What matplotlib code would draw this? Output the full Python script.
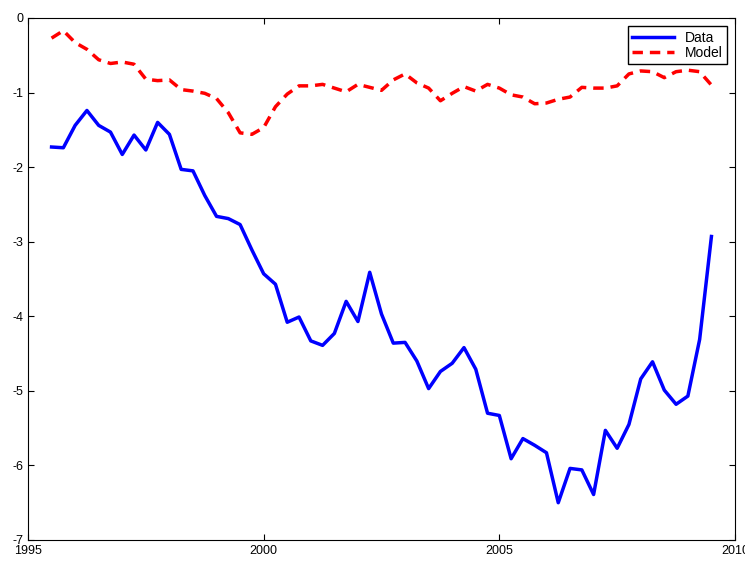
import numpy as np
import matplotlib
matplotlib.use("Agg")
import matplotlib.pyplot as plt

plt.rcParams['font.family'] = ['Liberation Sans', 'DejaVu Sans']
plt.rcParams['axes.unicode_minus'] = False

years = 1995.5 + 0.25 * np.arange(57)
data = [-1.73,-1.74,-1.44,-1.24,-1.44,-1.53,-1.83,-1.57,-1.77,-1.40,-1.56,-2.03,-2.05,-2.38,-2.66,-2.69,-2.77,-3.11,
        -3.43,-3.57,-4.08,-4.01,-4.33,-4.39,-4.23,-3.80,-4.07,-3.41,-3.97,-4.36,-4.35,-4.60,-4.97,-4.74,-4.63,-4.42,-4.71,-5.30,
        -5.33,-5.91,-5.64,-5.73,-5.83,-6.50,-6.04,-6.06,-6.39,-5.53,-5.77,-5.45,-4.84,-4.61,-4.99,-5.18,-5.07,-4.31,-2.93]
model = [-0.27,-0.17,-0.33,-0.42,-0.56,-0.61,-0.59,-0.62,-0.82,-0.84,-0.83,-0.96,-0.98,-1.01,-1.08,-1.27,-1.54,-1.56,
         -1.47,-1.19,-1.02,-0.91,-0.91,-0.89,-0.94,-0.99,-0.89,-0.93,-0.97,-0.83,-0.75,-0.87,-0.94,-1.11,-1.01,-0.92,-0.98,-0.89,
         -0.94,-1.03,-1.06,-1.15,-1.14,-1.09,-1.06,-0.93,-0.94,-0.94,-0.91,-0.75,-0.71,-0.72,-0.80,-0.72,-0.70,-0.72,-0.90]

fig = plt.figure(figsize=(7.45, 5.63), dpi=100)
ax = fig.add_axes([28/745, 1-540/563, 707/745, 522/563])
ax.plot(years, data, color='#0000ff', lw=2.5, label='Data')
ax.plot(years, model, color='#ff0000', lw=2.5, ls='--', dashes=(3, 2), label='Model')
ax.set_xlim(1995, 2010)
ax.set_ylim(-7, 0)
ax.set_xticks([1995, 2000, 2005, 2010])
ax.set_yticks(range(-7, 1))
ax.tick_params(direction='in', labelsize=9, top=True, right=True, length=4)
ax.legend(loc='upper right', fontsize=10, fancybox=False, edgecolor='black', framealpha=1,
          borderaxespad=0.6, handlelength=3, borderpad=0.3, labelspacing=0.1)
fig.savefig('out.png')
